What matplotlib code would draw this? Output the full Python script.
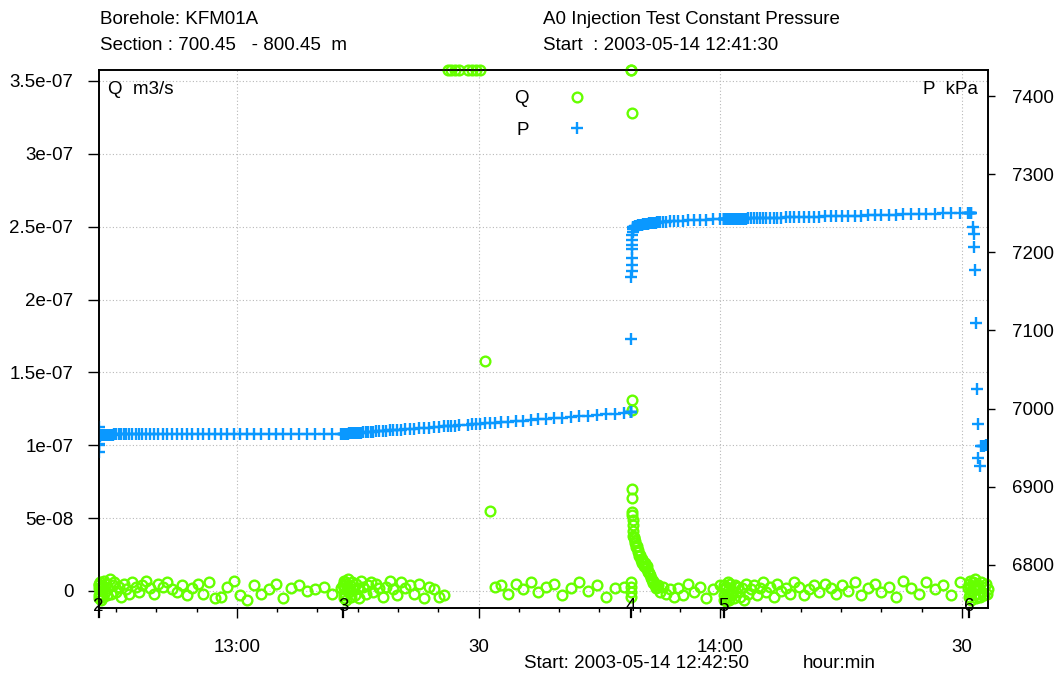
import numpy as np
import matplotlib
matplotlib.use('Agg')
import matplotlib.pyplot as plt
import matplotlib.transforms as mtransforms
from matplotlib.ticker import FixedLocator

plt.rcParams['font.family'] = ['Liberation Sans', 'DejaVu Sans']
plt.rcParams['font.size'] = 13.5

# time in minutes after 2003-05-14 12:42:50, one list per test phase
t2 = [0.00, 0.02, 0.05, 0.08, 0.12, 0.17, 0.23, 0.30, 0.38, 0.47,
      0.57, 0.68, 0.80, 0.93, 1.07, 1.22, 1.38, 1.55, 1.75, 1.97,
      2.22, 2.50, 2.80, 3.12, 3.46, 3.82, 4.20, 4.60, 5.02, 5.46,
      5.92, 6.40, 6.90, 7.42, 7.96, 8.52, 9.10, 9.70, 10.32, 10.96,
      11.62, 12.30, 13.00, 13.72, 14.46, 15.22, 16.00, 16.80, 17.62, 18.46,
      19.32, 20.20, 21.10, 22.02, 22.96, 23.92, 24.90, 25.90, 26.92, 27.96,
      29.02, 30.10]
p2 = [6955, 6953, 6976, 6944, 6962, 6965, 6966.0, 6966.2, 6966.3, 6966.4,
      6966.5, 6966.5, 6966.6, 6966.6, 6966.6, 6966.7, 6966.7, 6966.7, 6966.7, 6966.8,
      6966.8, 6966.8, 6966.8, 6966.8, 6966.9, 6966.9, 6966.9, 6966.9, 6966.9, 6966.9,
      6967.0, 6967.0, 6967.0, 6967.0, 6967.0, 6967.0, 6967.0, 6967.0, 6967.1, 6967.1,
      6967.1, 6967.1, 6967.1, 6967.1, 6967.1, 6967.2, 6967.2, 6967.2, 6967.2, 6967.2,
      6967.2, 6967.2, 6967.3, 6967.3, 6967.3, 6967.3, 6967.3, 6967.4, 6967.4, 6967.4,
      6967.4, 6967.5]
q2 = [2, -3, 5, -5, 4, -2, 6, -6, 3, 0,
      -4, 7, -1, 5, -3, 2, 8, -2, 4, 6,
      -1, 3, -4, 5, 1, -2, 6, 3, -1, 4,
      7, 2, -2, 5, 3, 6, 1, -1, 4, -3,
      2, 5, -2, 6, -5, -4, 3, 7, -3, -6,
      4, -2, 1, 5, -5, 2, 4, 0, 1, 3,
      -2, 2]

t3 = [30.40, 30.42, 30.45, 30.48, 30.52, 30.57, 30.63, 30.70, 30.78, 30.87,
      30.97, 31.08, 31.20, 31.33, 31.47, 31.62, 31.78, 31.96, 32.16, 32.38,
      32.62, 32.88, 33.16, 33.46, 33.78, 34.12, 34.48, 34.86, 35.26, 35.68,
      36.12, 36.58, 37.06, 37.56, 38.08, 38.62, 39.18, 39.76, 40.36, 40.98,
      41.62, 42.28, 42.90, 43.35, 43.80, 44.25, 44.70, 45.90, 46.40, 46.90,
      47.40, 47.95, 48.55, 49.20, 49.98, 50.86, 51.76, 52.68, 53.62, 54.58,
      55.56, 56.56, 57.58, 58.62, 59.68, 60.76, 61.86, 62.98, 64.12, 65.28]
p3 = [6967.6, 6967.6, 6967.6, 6967.7, 6967.7, 6967.7, 6967.8, 6967.8, 6967.9, 6968.0,
      6968.0, 6968.1, 6968.2, 6968.3, 6968.4, 6968.5, 6968.6, 6968.8, 6968.9, 6969.1,
      6969.3, 6969.5, 6969.7, 6969.9, 6970.2, 6970.4, 6970.7, 6971.0, 6971.3, 6971.6,
      6971.9, 6972.3, 6972.7, 6973.0, 6973.4, 6973.8, 6974.3, 6974.7, 6975.2, 6975.6,
      6976.1, 6976.6, 6977.1, 6977.4, 6977.8, 6978.1, 6978.5, 6979.4, 6979.8, 6980.1,
      6980.5, 6980.9, 6981.4, 6981.9, 6982.5, 6983.2, 6983.8, 6984.5, 6985.3, 6986.0,
      6986.7, 6987.5, 6988.3, 6989.0, 6989.9, 6990.7, 6991.5, 6992.4, 6993.2, 6994.1]
# flow above the plotted range (off scale) is stored as 400
q3 = [4, -3, 7, -5, 2, 6, -2, 5, -6, 3,
      8, -1, 4, -4, 6, 1, -3, 5, 2, -5,
      7, 3, -2, 4, 6, -1, 5, 2, -4, 3,
      7, 1, -3, 6, 2, 4, -2, 5, -5, 3,
      1, -4, -3, 400, 400, 400, 400, 400, 400, 400,
      400, 158, 55, 3, 4, -2, 5, 1, 6, -1,
      3, 5, -3, 2, 6, 0, 4, -4, 2, 3]

t4 = [66.10, 66.11, 66.12, 66.13, 66.14, 66.15, 66.16, 66.17, 66.18, 66.20,
      66.22, 66.24, 66.27, 66.30, 66.33, 66.37, 66.40, 66.45, 66.50, 66.55,
      66.60, 66.70, 66.80, 66.90, 67.00, 67.10, 67.20, 67.30, 67.40, 67.50,
      67.60, 67.70, 67.80, 67.92, 68.05, 68.15, 68.25, 68.35, 68.45, 68.56,
      68.67, 68.78, 68.88, 69.05, 69.20, 69.35, 69.50, 69.70, 70.05, 70.45,
      70.90, 71.40, 71.95, 72.55, 73.20, 73.90, 74.65, 75.45, 76.30, 77.15]
p4 = [6995, 6995, 6996, 6995, 7089, 7168, 7176, 7184, 7193, 7204,
      7209, 7216, 7222, 7226, 7230, 7231, 7232, 7232.5, 7233, 7233.2,
      7233.5, 7233.8, 7234, 7234.2, 7234.5, 7234.7, 7235, 7235.2, 7235.5, 7235.7,
      7236, 7236.1, 7236.3, 7236.5, 7236.7, 7236.8, 7237, 7237.1, 7237.3, 7237.4,
      7237.6, 7237.8, 7238, 7238.1, 7238.3, 7238.4, 7238.6, 7238.9, 7239.2, 7239.5,
      7239.8, 7240.1, 7240.4, 7240.7, 7241, 7241.3, 7241.6, 7241.9, 7242.2, 7242.5]
q4 = [3, -4, 6, -1, 400, 395, 328, 131, 124, 70,
      64, 54, 52, 49, 45, 41, 38, 37, 36, 33,
      34, 30, 31, 27, 28, 24, 25, 21, 22, 19,
      20, 17, 19.4, 16, 17, 14, 13, 12.5, 11, 9,
      7.5, 7, 5.3, 4, 2, 3, 4, -0.5, 3, -2,
      1, -4, 2, -3, 5, -1, 3, -5, 1, 4]

t5 = [77.60, 77.62, 77.65, 77.68, 77.72, 77.77, 77.83, 77.90, 77.98, 78.07,
      78.17, 78.28, 78.40, 78.53, 78.67, 78.82, 78.98, 79.16, 79.36, 79.58,
      79.82, 80.08, 80.36, 80.66, 80.98, 81.32, 81.68, 82.06, 82.46, 82.88,
      83.32, 83.78, 84.26, 84.76, 85.28, 85.82, 86.38, 86.96, 87.56, 88.18,
      88.82, 89.48, 90.16, 90.86, 91.58, 92.32, 93.08, 93.86, 94.66, 95.48,
      96.32, 97.18, 98.06, 98.96, 99.88, 100.82, 101.78, 102.76, 103.76, 104.78,
      105.82, 106.88, 107.90]
p5 = [7242.7, 7242.7, 7242.7, 7242.7, 7242.7, 7242.7, 7242.8, 7242.8, 7242.8, 7242.8,
      7242.9, 7242.9, 7242.9, 7243.0, 7243.0, 7243.0, 7243.1, 7243.1, 7243.2, 7243.2,
      7243.3, 7243.4, 7243.4, 7243.5, 7243.6, 7243.7, 7243.8, 7243.9, 7244.0, 7244.1,
      7244.2, 7244.4, 7244.5, 7244.6, 7244.8, 7244.9, 7245.1, 7245.2, 7245.4, 7245.6,
      7245.7, 7245.9, 7246.1, 7246.3, 7246.5, 7246.7, 7246.9, 7247.1, 7247.3, 7247.5,
      7247.8, 7248.0, 7248.2, 7248.5, 7248.7, 7249.0, 7249.2, 7249.5, 7249.8, 7250.0,
      7250.3, 7250.6, 7250.9]
q5 = [-3, 2, -6, 4, -5, 1, -7, 3, -4, 6,
      -2, -6, 5, -3, 0, -5, 4, -1, 3, -4,
      2, -6, 5, -2, 1, 4, -3, 2, 6, -1,
      3, -4, 5, 0, 2, -2, 6, 3, -3, 1,
      4, -1, 5, 2, -2, 4, 0, 6, -3, 2,
      5, -1, 3, -4, 7, 2, -2, 6, 1, 4,
      -3, 6, 2]

t6 = [108.07, 108.09, 108.12, 108.16, 108.20, 108.26, 108.35, 108.50, 108.62, 108.72,
      108.82, 108.92, 109.02, 109.12, 109.22, 109.35, 109.50, 109.65, 109.80, 109.95,
      110.10, 110.25, 110.38]
p6 = [7251, 7251, 7250.8, 7250.8, 7250.5, 7250.3, 7250, 7233, 7223, 7207,
      7177, 7110, 7025, 6980, 6937, 6927, 6952, 6952, 6952.5, 6952.5,
      6953, 6953, 6953]
q6 = [5, -4, 7, -2, 3, 0, -6, 6, -3, 1,
      8, -5, 2, -2, 4, -4, 6, -1, 3, -3,
      5, -2, 1]

phase_start = [0.0, 30.4, 66.1, 77.6, 108.07]
phase_no = ['2', '3', '4', '5', '6']

xtick_pos = [17.17, 47.17, 77.17, 107.17]
xtick_lab = ['13:00', '30', '14:00', '30']
qtick_pos = [0, 5e-8, 1e-7, 1.5e-7, 2e-7, 2.5e-7, 3e-7, 3.5e-7]
qtick_lab = ['0', '5e-08', '1e-07', '1.5e-07', '2e-07', '2.5e-07', '3e-07', '3.5e-07']
ptick_pos = [6800, 6900, 7000, 7100, 7200, 7300, 7400]

green = '#66ff00'
blue = '#0a98ff'

t_all = np.concatenate([t2, t3, t4, t5, t6])
p_all = np.concatenate([p2, p3, p4, p5, p6])
q_all = np.concatenate([q2, q3, q4, q5, q6]) * 1e-9

fig = plt.figure(figsize=(10.58, 6.8), dpi=100)
ax = fig.add_axes([98.5 / 1058, 72 / 680, 889.5 / 1058, 538 / 680])
ax.set_xlim(0, 110.4)
ax.set_ylim(-1.17e-8, 3.575e-7)
ax2 = ax.twinx()
ax2.set_ylim(6744.5, 7433.7)

# off-scale flow is pinned to the top border, like the logger plot does
q_top = ax.get_ylim()[1]
lq, = ax.plot(t_all, np.minimum(q_all, q_top), ls='none', marker='o', ms=7,
              mfc='none', mec=green, mew=1.7, clip_on=False, zorder=3)
lp, = ax2.plot(t_all, p_all, ls='none', marker='+', ms=9, mew=1.7, color=blue)

ax.set_yticks(qtick_pos, qtick_lab)
ax2.set_yticks(ptick_pos)
ax.xaxis.set_major_locator(FixedLocator(xtick_pos))
ax.set_xticklabels(xtick_lab)
ax.xaxis.set_minor_locator(FixedLocator(np.arange(2.17, 110.4, 5.0)))
ax.tick_params(axis='y', direction='out', length=8, width=1, pad=10)
ax2.tick_params(axis='y', direction='out', length=5, width=1, pad=12)
ax.tick_params(axis='x', which='major', direction='out', length=7, width=1, pad=15)
ax.tick_params(axis='x', which='minor', direction='out', length=3, width=1)

ax.grid(True, which='major', ls=(0, (1, 2)), color='#b8b8b8', lw=0.8)
for a in (ax, ax2):
    for s in a.spines.values():
        s.set_linewidth(1.2)

# phase numbers along the time axis
trans = mtransforms.blended_transform_factory(ax.transData, ax.transAxes)
for tp, n in zip(phase_start, phase_no):
    ax.text(tp, 0.002, n, transform=trans, ha='center', va='center', zorder=6)
    ax.plot([tp, tp], [0, -0.016], transform=trans, color='black', lw=1.6,
            clip_on=False)

ax.text(0.0107, 0.964, 'Q  m3/s', transform=ax.transAxes, va='center')
ax2.text(0.9888, 0.964, 'P  kPa', transform=ax.transAxes, va='center', ha='right')

ax2.legend([lq, lp], ['Q', 'P'], loc='upper left', bbox_to_anchor=(514 / 1058, 1 - 90 / 680),
           bbox_transform=fig.transFigure, markerfirst=False, frameon=False,
           handlelength=2.0, handletextpad=1.6, labelspacing=0.78, borderpad=0,
           borderaxespad=0)

fig.text(100 / 1058, 1 - 19 / 680, 'Borehole: KFM01A', va='center')
fig.text(100 / 1058, 1 - 45 / 680, 'Section : 700.45   - 800.45  m', va='center')
fig.text(543 / 1058, 1 - 19 / 680, 'A0 Injection Test Constant Pressure', va='center')
fig.text(543 / 1058, 1 - 45 / 680, 'Start  : 2003-05-14 12:41:30', va='center')
fig.text(524 / 1058, 1 - 664 / 680, 'Start: 2003-05-14 12:42:50', va='center')
fig.text(803 / 1058, 1 - 664 / 680, 'hour:min', va='center')

fig.savefig('out.png', dpi=100)
